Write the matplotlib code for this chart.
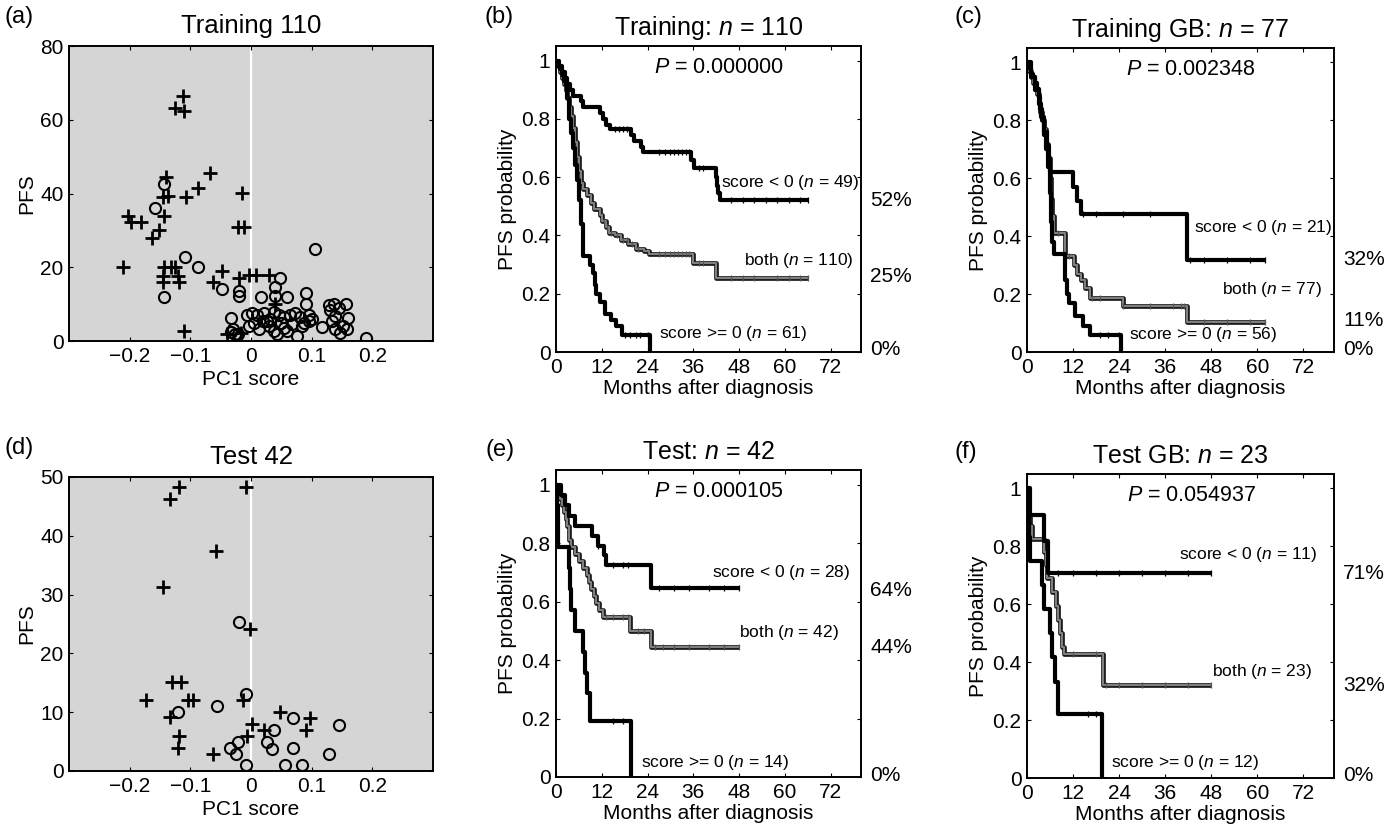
import numpy as np
import matplotlib
matplotlib.use("Agg")
import matplotlib.pyplot as plt
import matplotlib.transforms as mtransforms

plt.rcParams['font.family'] = ['Liberation Sans', 'DejaVu Sans']
plt.rcParams['mathtext.fontset'] = 'custom'
plt.rcParams['mathtext.rm'] = 'Liberation Sans'
plt.rcParams['mathtext.it'] = 'Liberation Sans:italic'

# ---------------- scatter data (PC1 score vs PFS) ----------------
train_plus_x = [-0.112, -0.126, -0.110, -0.067, -0.140, -0.088, -0.145, -0.136, -0.107, -0.015,
                -0.203, -0.197, -0.181, -0.144, -0.164, -0.152, -0.022, -0.011, -0.211, -0.144,
                -0.132, -0.120, -0.145, -0.145, -0.118, -0.048, -0.062, -0.020, -0.003, 0.008,
                0.030, 0.039, -0.110, -0.039, -0.017, -0.125]
train_plus_y = [66.4, 63.2, 62.5, 45.5, 44.5, 41.4, 39.0, 39.3, 39.0, 40.2,
                33.8, 32.3, 32.3, 34.0, 28.0, 30.0, 31.0, 31.0, 20.0, 20.0,
                20.0, 17.7, 17.7, 16.0, 16.0, 19.0, 16.0, 17.0, 18.0, 18.0,
                18.0, 10.0, 2.7, 1.8, 2.3, 20.0]
train_circ_x = [-0.143, -0.158, -0.108, -0.087, -0.144, -0.048, -0.020, -0.020, 0.106, 0.047,
                0.040, 0.040, 0.016, 0.060, 0.090, 0.090, 0.128, 0.136, 0.130, 0.157,
                -0.033, -0.030, -0.022, -0.033, -0.007, 0.001, 0.010, 0.021, 0.032, 0.038,
                0.046, 0.054, 0.065, 0.073, 0.081, 0.095, -0.004, 0.013, 0.027, 0.038,
                0.043, 0.060, 0.076, 0.084, 0.095, 0.117, 0.134, 0.139, 0.139, 0.147,
                0.152, 0.160, 0.158, 0.190, 0.005, 0.030, 0.050, 0.068, 0.088, 0.020,
                0.055, 0.145, -0.027, 0.100]
train_circ_y = [42.5, 36.2, 22.9, 20.0, 12.0, 14.1, 13.6, 12.3, 25.0, 17.1,
                14.7, 12.3, 12.0, 12.0, 12.9, 10.0, 9.8, 10.0, 8.5, 10.0,
                6.2, 3.2, 1.8, 2.5, 7.0, 7.5, 7.0, 7.5, 6.0, 8.0,
                7.0, 6.5, 7.0, 7.5, 6.5, 7.0, 4.0, 3.2, 5.5, 2.7,
                1.8, 2.7, 1.4, 4.2, 5.5, 3.9, 5.5, 6.8, 3.2, 2.3,
                4.1, 6.3, 3.2, 0.9, 5.0, 4.0, 5.0, 4.5, 5.0, 5.5,
                3.5, 9.0, 2.0, 6.0]

test_plus_x = [-0.119, -0.133, -0.009, -0.058, -0.145, -0.002, -0.131, -0.115, -0.173, -0.104,
               -0.096, -0.014, -0.133, -0.118, -0.121, -0.062, -0.006, 0.001, 0.021, 0.048,
               0.098, 0.091]
test_plus_y = [48.3, 46.2, 48.3, 37.4, 31.3, 24.2, 15.1, 15.1, 12.0, 12.0,
               12.0, 12.0, 9.1, 6.0, 3.9, 2.9, 5.9, 8.0, 7.0, 10.1,
               9.0, 7.0]
test_circ_x = [-0.020, -0.009, -0.056, -0.121, 0.069, 0.038, 0.145, 0.027, 0.035, 0.069,
               0.129, -0.021, -0.035, -0.025, -0.009, 0.056, 0.084]
test_circ_y = [25.3, 13.1, 11.0, 10.0, 9.0, 7.0, 7.9, 5.0, 3.8, 3.9,
               2.9, 4.9, 3.9, 2.9, 1.0, 1.0, 1.0]

# ---------------- Kaplan-Meier step data ----------------
# panel (b) training n=110
b_neg_t = [0, 0.8, 1.5, 2.3, 3, 3.8, 4.5, 6.5, 7.2, 11.6, 12.4, 13.2, 14.2, 19.6, 20.5, 22.4, 22.8, 35.5, 36.2, 42, 42.3, 42.6, 43]
b_neg_s = [1.0, 0.98, 0.96, 0.94, 0.92, 0.90, 0.88, 0.86, 0.84, 0.82, 0.80, 0.78, 0.765, 0.745, 0.725, 0.705, 0.685, 0.66, 0.63, 0.60, 0.57, 0.545, 0.52]
b_neg_c = [15.5, 16.5, 17.5, 18.5, 27, 28.5, 30, 31, 32, 33, 34, 35, 37.5, 38.5, 46, 49, 52, 55, 58, 61, 64, 66]
b_all_t = [0, 0.5, 1, 1.5, 2, 2.5, 3, 3.5, 4, 4.5, 5, 5.5, 6, 6.5, 7, 8, 9.3, 10, 11.5, 12, 13, 14, 15.5, 17, 19, 21, 23, 24.5, 36, 42]
b_all_s = [1.0, 0.98, 0.96, 0.94, 0.92, 0.90, 0.87, 0.84, 0.81, 0.77, 0.72, 0.67, 0.62, 0.58, 0.56, 0.54, 0.51, 0.49, 0.47, 0.45, 0.43, 0.41, 0.40, 0.385, 0.37, 0.355, 0.345, 0.335, 0.305, 0.255]
b_all_c = [12.5, 13.5, 14.5, 16, 17.5, 18.5, 20, 21.5, 27, 28.5, 30, 31, 32, 33, 34, 35, 37.5, 38.5, 46, 49, 52, 58, 61, 64, 66]
b_pos_t = [0, 0.5, 1, 1.5, 2, 2.5, 3, 3.5, 4, 4.5, 5, 5.5, 6, 6.5, 7, 7.2, 9, 9.7, 10.2, 10.6, 11.5, 12.8, 14.5, 15.8, 17.2, 24.6]
b_pos_s = [1.0, 0.98, 0.97, 0.95, 0.93, 0.92, 0.87, 0.80, 0.75, 0.70, 0.64, 0.59, 0.52, 0.44, 0.36, 0.33, 0.30, 0.27, 0.23, 0.20, 0.17, 0.13, 0.11, 0.09, 0.06, 0.0]
b_pos_c = [18, 19.5, 21, 22, 24]
b_end = [66, 66, 24.6]

# panel (c) training GB n=77
c_neg_t = [0, 1, 2, 3, 3.7, 4.5, 5.2, 5.8, 6.1, 12, 13, 14, 41.8]
c_neg_s = [1.0, 0.95, 0.905, 0.857, 0.81, 0.76, 0.71, 0.667, 0.62, 0.57, 0.52, 0.476, 0.317]
c_neg_c = [14.5, 18, 25, 32, 42.5, 46, 52, 58, 62]
c_all_t = [0, 0.5, 1, 1.5, 2, 2.5, 3, 3.5, 4, 4.5, 5, 5.5, 6, 6.3, 6.6, 7, 10, 12.3, 13, 14, 15, 16.5, 25, 41.8]
c_all_s = [1.0, 0.97, 0.95, 0.93, 0.91, 0.89, 0.86, 0.83, 0.80, 0.77, 0.72, 0.67, 0.60, 0.53, 0.47, 0.41, 0.33, 0.30, 0.27, 0.25, 0.22, 0.185, 0.16, 0.105]
c_all_c = [8, 11, 17, 19, 25, 32, 38, 40, 41, 46, 52, 58, 62]
c_pos_t = [0, 0.5, 1, 1.5, 2, 2.5, 3, 3.5, 4, 4.5, 5, 5.5, 6, 6.3, 6.6, 7, 9.8, 10, 10.3, 11, 12.5, 14.5, 16.4, 24.6]
c_pos_s = [1.0, 0.98, 0.96, 0.95, 0.93, 0.91, 0.88, 0.84, 0.80, 0.75, 0.70, 0.64, 0.55, 0.45, 0.38, 0.34, 0.30, 0.25, 0.20, 0.17, 0.125, 0.09, 0.06, 0.0]
c_pos_c = [19, 21, 24]
c_end = [62, 62, 24.6]

# panel (e) test n=42
e_neg_t = [0, 1.2, 2.4, 3.5, 5, 9.5, 11, 12.5, 13, 25]
e_neg_s = [1.0, 0.964, 0.929, 0.893, 0.86, 0.825, 0.79, 0.76, 0.725, 0.645]
e_neg_c = [11, 15, 17.5, 19, 27, 31, 35, 40, 44, 48]
e_all_t = [0, 0.5, 1, 1.5, 2, 2.5, 3, 3.5, 4, 5, 6, 7, 8, 8.7, 9.3, 10, 10.6, 11.3, 12.3, 19.5, 25]
e_all_s = [1.0, 0.976, 0.952, 0.929, 0.905, 0.881, 0.857, 0.81, 0.786, 0.762, 0.738, 0.714, 0.69, 0.667, 0.643, 0.619, 0.595, 0.571, 0.548, 0.50, 0.443]
e_all_c = [13, 15, 17.5, 19, 21.5, 23, 26, 28, 31, 35, 40, 44, 48]
e_pos_t = [0, 0.2, 0.4, 0.6, 3.3, 3.6, 3.9, 5, 7, 7.5, 8, 8.8, 19.8]
e_pos_s = [1.0, 0.929, 0.857, 0.786, 0.714, 0.643, 0.571, 0.50, 0.429, 0.357, 0.286, 0.19, 0.0]
e_pos_c = [15, 17.5]
e_end = [48, 48, 19.8]

# panel (f) test GB n=23
f_neg_t = [0, 0.8, 4.3, 5.6]
f_neg_s = [1.0, 0.909, 0.818, 0.709]
f_neg_c = [8, 12, 18, 24, 30, 36, 42, 48]
f_all_t = [0, 0.3, 0.6, 0.9, 1.2, 4.5, 5, 5.3, 6.5, 7.5, 8, 8.6, 9.2, 9.6, 19.8]
f_all_s = [1.0, 0.957, 0.913, 0.87, 0.826, 0.78, 0.735, 0.69, 0.643, 0.595, 0.547, 0.50, 0.453, 0.43, 0.32]
f_all_c = [12, 18, 20.5, 24, 30, 36, 42, 48]
f_pos_t = [0, 0.3, 0.6, 0.9, 3.8, 4.3, 6, 6.6, 7.2, 8.2, 19.6]
f_pos_s = [1.0, 0.917, 0.833, 0.75, 0.667, 0.583, 0.50, 0.417, 0.333, 0.22, 0.0]
f_pos_c = [16, 18]
f_end = [48, 48, 19.6]

# labels
b_labels = [r"score < 0 ($n$ = 49)", r"both ($n$ = 110)", r"score >= 0 ($n$ = 61)"]
c_labels = [r"score < 0 ($n$ = 21)", r"both ($n$ = 77)", r"score >= 0 ($n$ = 56)"]
e_labels = [r"score < 0 ($n$ = 28)", r"both ($n$ = 42)", r"score >= 0 ($n$ = 14)"]
f_labels = [r"score < 0 ($n$ = 11)", r"both ($n$ = 23)", r"score >= 0 ($n$ = 12)"]
b_pct = ["52%", "25%", "0%"]
c_pct = ["32%", "11%", "0%"]
e_pct = ["64%", "44%", "0%"]
f_pct = ["71%", "32%", "0%"]
pvals = ["0.000000", "0.002348", "0.000105", "0.054937"]

fig = plt.figure(figsize=(13.98, 8.33), dpi=100)
W, H = 1398.0, 833.0


def px_axes(l, t, r, b):
    return fig.add_axes([l / W, 1 - b / H, (r - l) / W, (b - t) / H])


def style_axes(ax):
    ax.tick_params(direction='in', top=True, right=True, length=3, width=0.8,
                   labelsize=15, pad=4)
    for sp in ax.spines.values():
        sp.set_linewidth(1.4)


def scatter_panel(ax, px, py, cx, cy, ymax, yticks, title):
    ax.set_facecolor('#d5d5d5')
    ax.axvline(0, color='white', lw=1.6, zorder=1)
    ax.plot(px, py, '+', color='black', ms=9.5, mew=2.0, zorder=3)
    ax.plot(cx, cy, 'o', mfc='none', mec='black', ms=8, mew=1.5, zorder=3)
    ax.set_xlim(-0.3, 0.3)
    ax.set_ylim(0, ymax)
    ax.set_xticks([-0.2, -0.1, 0, 0.1, 0.2])
    ax.set_xticklabels(['\u22120.2', '\u22120.1', '0', '0.1', '0.2'])
    ax.set_yticks(yticks)
    ax.set_xlabel('PC1 score', fontsize=15, labelpad=3)
    ax.set_ylabel('PFS', fontsize=15, labelpad=3)
    ax.set_title(title, fontsize=18.5, pad=9)
    style_axes(ax)


def km_curve(ax, t, s, t_end, cens, both=False):
    tt = np.append(t, t_end)
    ss = np.append(s, s[-1])
    if both:
        ax.step(tt, ss, where='post', color='#1a1a1a', lw=3.4, zorder=2, solid_capstyle='butt')
        ax.step(tt, ss, where='post', color='#808080', lw=1.5, zorder=2.1, solid_capstyle='butt')
    else:
        ax.step(tt, ss, where='post', color='black', lw=3.0, zorder=3, solid_capstyle='butt')
    idx = np.searchsorted(t, cens, side='right') - 1
    cy = np.array(s)[idx]
    ax.plot(cens, cy, '|', color='black' if not both else '#555555', ms=5, mew=0.9, zorder=4)


def km_panel(ax, curves, ends, labels, label_pos, pct, pct_y, pval, title):
    neg, allc, pos = curves
    km_curve(ax, allc[0], allc[1], ends[1], allc[2], both=True)
    km_curve(ax, neg[0], neg[1], ends[0], neg[2])
    km_curve(ax, pos[0], pos[1], ends[2], pos[2])
    ax.set_xlim(0, 80)
    ax.set_ylim(0, 1.05)
    ax.set_xticks([0, 12, 24, 36, 48, 60, 72])
    ax.set_yticks([0, 0.2, 0.4, 0.6, 0.8, 1])
    ax.set_yticklabels(['0', '0.2', '0.4', '0.6', '0.8', '1'])
    ax.set_xlabel('Months after diagnosis', fontsize=15, labelpad=2)
    ax.set_ylabel('PFS probability', fontsize=15, labelpad=3)
    ax.set_title(title, fontsize=18, pad=8)
    for lab, (lx, ly) in zip(labels, label_pos):
        ax.text(lx, ly, lab, fontsize=12.5, ha='left', va='center')
    trans = mtransforms.blended_transform_factory(ax.transAxes, ax.transData)
    for p, y in zip(pct, pct_y):
        ax.text(1.03, y, p, fontsize=15, ha='left', va='center', transform=trans)
    ax.text(0.535, 0.975, r"$P$ = " + pval, fontsize=15.5, ha='center', va='center',
            transform=trans)
    style_axes(ax)


ax_a = px_axes(69, 46, 433, 341)
scatter_panel(ax_a, train_plus_x, train_plus_y, train_circ_x, train_circ_y, 80,
              [0, 20, 40, 60, 80], 'Training 110')
ax_d = px_axes(69, 477, 433, 771)
scatter_panel(ax_d, test_plus_x, test_plus_y, test_circ_x, test_circ_y, 50,
              [0, 10, 20, 30, 40, 50], 'Test 42')

ax_b = px_axes(556, 46, 861, 352)
km_panel(ax_b, [(b_neg_t, b_neg_s, b_neg_c), (b_all_t, b_all_s, b_all_c), (b_pos_t, b_pos_s, b_pos_c)],
         b_end, b_labels, [(43.2, 0.58), (49.2, 0.314), (27.0, 0.062)],
         b_pct, [0.52, 0.26, 0.01], pvals[0], r"Training: $n$ = 110")
ax_c = px_axes(1027, 48, 1334, 352)
km_panel(ax_c, [(c_neg_t, c_neg_s, c_neg_c), (c_all_t, c_all_s, c_all_c), (c_pos_t, c_pos_s, c_pos_c)],
         c_end, c_labels, [(43.4, 0.43), (50.8, 0.217), (26.6, 0.06)],
         c_pct, [0.32, 0.11, 0.01], pvals[1], r"Training GB: $n$ = 77")
ax_e = px_axes(556, 470, 861, 777)
km_panel(ax_e, [(e_neg_t, e_neg_s, e_neg_c), (e_all_t, e_all_s, e_all_c), (e_pos_t, e_pos_s, e_pos_c)],
         e_end, e_labels, [(40.9, 0.698), (47.9, 0.494), (22.2, 0.049)],
         e_pct, [0.638, 0.443, 0.006], pvals[2], r"Test: $n$ = 42")
ax_f = px_axes(1027, 474, 1334, 778)
km_panel(ax_f, [(f_neg_t, f_neg_s, f_neg_c), (f_all_t, f_all_s, f_all_c), (f_pos_t, f_pos_s, f_pos_c)],
         f_end, f_labels, [(39.5, 0.771), (48.2, 0.367), (21.9, 0.053)],
         f_pct, [0.708, 0.318, 0.01], pvals[3], r"Test GB: $n$ = 23")

# panel letters
for lab, x, y in [('(a)', 5, 17), ('(b)', 485, 17), ('(c)', 955, 17),
                  ('(d)', 5, 448), ('(e)', 486, 450), ('(f)', 955, 452)]:
    fig.text(x / W, 1 - y / H, lab, fontsize=17, ha='left', va='center')

fig.savefig('out.png', dpi=100)
